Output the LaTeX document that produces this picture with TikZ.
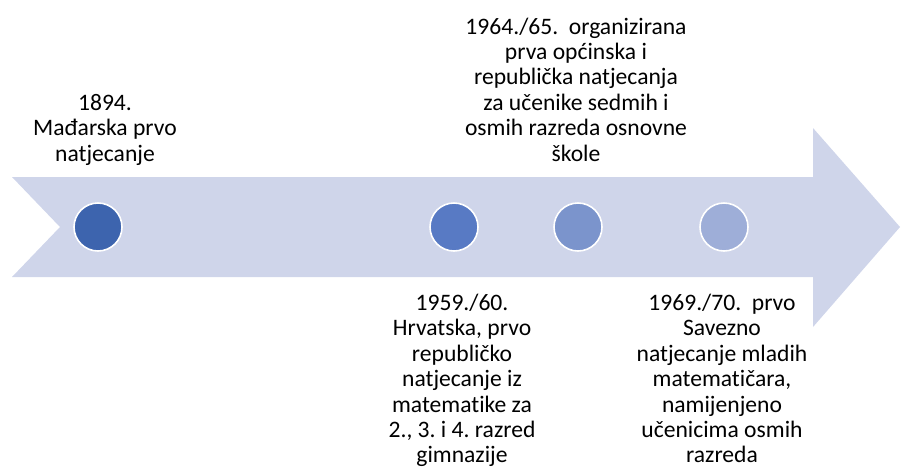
\documentclass[tikz,border=0pt]{standalone}
\usepackage{fontspec}
\setmainfont{Carlito}[Ligatures=NoCommon]
\usepackage{tikz}
\usetikzlibrary{positioning}
\frenchspacing
\definecolor{bandblue}{RGB}{207,213,234}
\definecolor{dotone}{RGB}{61,100,174}
\definecolor{dottwo}{RGB}{88,122,196}
\definecolor{dotthree}{RGB}{123,148,204}
\definecolor{dotfour}{RGB}{158,174,216}
\tikzset{
  band/.style={fill=bandblue,draw=none},
  dot/.style={circle,draw=white,line width=1.6pt,minimum size=48pt,inner sep=0pt},
  evtext/.style={align=center,text=black,inner sep=0pt,font={\fontsize{23.6}{25.4}\selectfont}}
}

\begin{document}
\begin{tikzpicture}[x=1pt,y=-1pt]
  \useasboundingbox (0,0) rectangle (901,467);
  % timeline arrow
  \draw[band] (12,177)--(813,177)--(813,128)--(900,227)--(813,327)--(813,277)--(12,277)--(60,227)--cycle;

  % events on the line
  \node[dot,fill=dotone] (e1894) at (98,227) {};
  \node[dot,fill=dottwo] (e1959) at (454,227) {};
  \node[dot,fill=dotthree] (e1964) at (578,227) {};
  \node[dot,fill=dotfour] (e1969) at (724,227) {};

  % texts above
  \node[evtext,anchor=north] (t1894) at (105,94) {1894.\\Mađarska prvo\\natjecanje};
  \node[evtext,anchor=north] (t1964) at (576,17.5) {1964./65.~~organizirana\\prva općinska i\\republička natjecanja\\za učenike sedmih i\\osmih razreda osnovne\\škole};

  % texts below
  \node[evtext,anchor=north] (t1959) at (462,294) {1959./60.\\Hrvatska, prvo\\republičko\\natjecanje iz\\matematike za\\2., 3. i 4. razred\\gimnazije};
  \node[evtext,anchor=north] (t1969) at (722,294) {1969./70.~~prvo\\Savezno\\natjecanje mladih\\matematičara,\\namijenjeno\\učenicima osmih\\razreda};
\end{tikzpicture}
\end{document}
